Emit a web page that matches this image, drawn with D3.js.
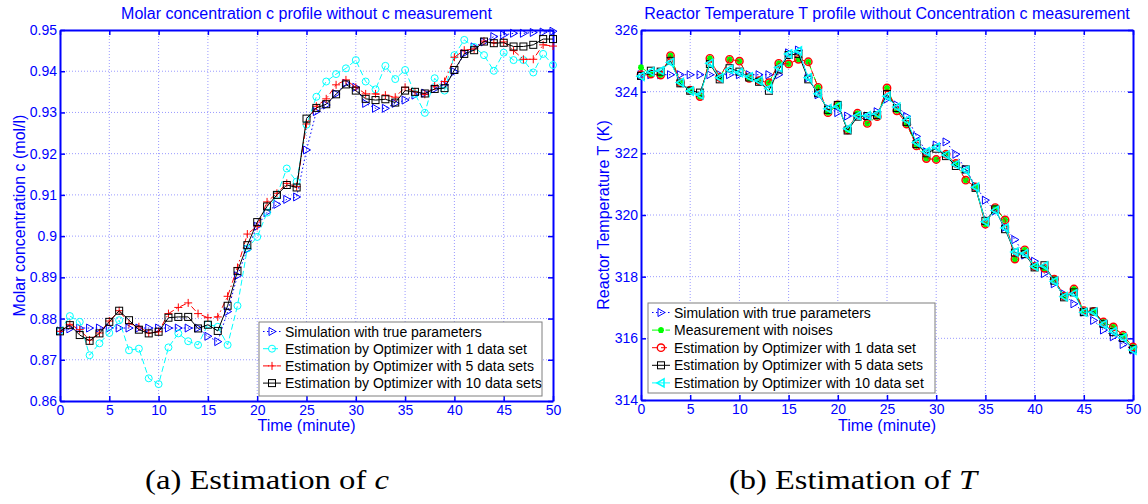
<!DOCTYPE html>
<html><head><meta charset="utf-8">
<script src="https://cdn.jsdelivr.net/npm/d3@7"></script>
<style>
html,body{margin:0;padding:0;background:#fff;}
svg{display:block;font-family:"Liberation Sans",Arial,sans-serif;}
</style></head><body>
<svg id="chart" width="1148" height="504"></svg>
<script>
// ---------------- DATA ----------------
const time = [0,1,2,3,4,5,6,7,8,9,10,11,12,13,14,15,16,17,18,19,20,21,22,23,24,25,26,27,28,29,30,31,32,33,34,35,36,37,38,39,40,41,42,43,44,45,46,47,48,49,50];

// (a) molar concentration c
const cSim = [0.8770,0.8775,0.8777,0.8777,0.8777,0.8777,0.8777,0.8777,0.8777,0.8777,0.8777,0.8777,0.8777,0.8777,0.8777,0.8757,0.8744,0.8817,0.8904,0.8968,0.9024,0.9058,0.9077,0.9089,0.9095,0.9209,0.9302,0.9318,0.9345,0.9371,0.9361,0.9322,0.9310,0.9310,0.9322,0.9330,0.9342,0.9347,0.9357,0.9367,0.9399,0.9443,0.9459,0.9471,0.9484,0.9488,0.9492,0.9492,0.9494,0.9495,0.9497];
const cEst1 = [0.8770,0.8806,0.8792,0.8711,0.8740,0.8765,0.8796,0.8723,0.8727,0.8655,0.8641,0.8730,0.8764,0.8745,0.8736,0.8786,0.8780,0.8736,0.8831,0.8970,0.8998,0.9057,0.9100,0.9164,0.9132,0.9270,0.9338,0.9375,0.9393,0.9407,0.9427,0.9375,0.9356,0.9413,0.9381,0.9403,0.9345,0.9299,0.9383,0.9353,0.9439,0.9476,0.9459,0.9439,0.9401,0.9445,0.9427,0.9427,0.9397,0.9442,0.9415];
const cEst5 = [0.8769,0.8786,0.8773,0.8748,0.8765,0.8794,0.8819,0.8788,0.8780,0.8765,0.8768,0.8812,0.8827,0.8838,0.8812,0.8802,0.8804,0.8854,0.8924,0.9005,0.9024,0.9083,0.9104,0.9128,0.9120,0.9272,0.9315,0.9333,0.9367,0.9379,0.9361,0.9345,0.9345,0.9342,0.9337,0.9361,0.9350,0.9344,0.9364,0.9375,0.9434,0.9451,0.9454,0.9473,0.9469,0.9471,0.9450,0.9429,0.9429,0.9464,0.9461];
const cEst10 = [0.8769,0.8784,0.8760,0.8746,0.8764,0.8792,0.8819,0.8796,0.8773,0.8764,0.8768,0.8802,0.8804,0.8804,0.8776,0.8785,0.8770,0.8831,0.8915,0.8978,0.9034,0.9072,0.9100,0.9124,0.9118,0.9285,0.9311,0.9320,0.9344,0.9368,0.9353,0.9333,0.9330,0.9332,0.9324,0.9353,0.9350,0.9346,0.9357,0.9359,0.9403,0.9442,0.9451,0.9472,0.9468,0.9469,0.9460,0.9460,0.9464,0.9478,0.9478];

// (b) reactor temperature T
const tSim = [324.55,324.55,324.55,324.55,324.55,324.55,324.55,324.55,324.55,324.55,324.55,324.55,324.55,324.55,324.55,325.26,325.35,324.45,323.90,323.46,323.32,323.21,323.21,323.21,323.35,323.76,323.57,323.20,322.55,322.05,322.27,322.37,321.97,321.48,320.94,320.48,320.13,319.60,319.20,318.70,318.50,318.10,317.77,317.44,317.12,316.85,316.58,316.27,316.05,315.80,315.62];
const tMeas = [324.79,324.57,324.54,325.17,324.29,324.05,323.84,325.08,324.46,325.05,324.99,324.43,324.36,324.29,324.92,324.90,325.05,324.97,324.14,323.32,323.57,322.76,323.30,322.97,323.19,324.12,323.38,322.95,322.24,321.83,321.80,321.97,321.67,321.13,320.91,319.70,320.24,319.84,318.57,318.87,318.33,318.27,317.92,317.37,317.60,316.90,316.87,316.53,316.37,316.10,315.72];
const tEst1 = [324.55,324.57,324.54,325.17,324.29,324.05,323.84,325.08,324.46,325.05,324.99,324.43,324.36,324.29,324.92,324.90,325.05,324.97,324.14,323.32,323.57,322.76,323.30,322.97,323.19,324.12,323.38,322.95,322.24,321.83,321.80,321.97,321.67,321.13,320.91,319.70,320.24,319.84,318.57,318.87,318.33,318.27,317.92,317.37,317.60,316.90,316.87,316.53,316.37,316.10,315.72];
const tEst5 = [324.51,324.68,324.65,325.00,324.27,324.03,323.97,324.90,324.40,324.76,324.65,324.46,324.32,324.03,324.72,325.19,325.22,324.40,323.95,323.41,323.57,322.74,323.19,323.21,323.24,323.92,323.47,323.02,322.30,322.00,322.15,321.91,321.59,321.48,320.88,319.81,320.18,319.54,318.78,318.73,318.30,318.37,317.87,317.33,317.49,316.85,316.87,316.47,316.20,316.01,315.65];
const tEst10 = [324.50,324.65,324.68,324.95,324.30,324.02,323.90,324.92,324.45,324.72,324.62,324.48,324.35,324.10,324.78,325.22,325.32,324.45,323.93,323.45,323.52,322.80,323.22,323.22,323.28,323.85,323.50,323.07,322.35,322.05,322.20,321.95,321.63,321.45,320.90,319.78,320.15,319.58,318.80,318.75,318.33,318.35,317.85,317.35,317.45,316.85,316.85,316.45,316.22,316.02,315.62];

const xTicks = [0,5,10,15,20,25,30,35,40,45,50];
const cTicks = [0.86,0.87,0.88,0.89,0.9,0.91,0.92,0.93,0.94,0.95];
const tTicks = [314,316,318,320,322,324,326];

const cSeries = [
  {name:"Simulation with true parameters", values:cSim, color:"#0000ff", dash:"1.5,2.5", marker:"triR"},
  {name:"Estimation by Optimizer with 1 data set", values:cEst1, color:"#00ffff", dash:"6,3", marker:"circle"},
  {name:"Estimation by Optimizer with 5 data sets", values:cEst5, color:"#ff0000", dash:"6,3,1.5,3", marker:"plus"},
  {name:"Estimation by Optimizer with 10 data sets", values:cEst10, color:"#000000", dash:null, marker:"square"}
];
const tSeries = [
  {name:"Simulation with true parameters", values:tSim, color:"#0000ff", dash:"1.5,2.5", marker:"triR"},
  {name:"Measurement with noises", values:tMeas, color:"#00ff00", dash:"6,3,1.5,3", marker:"star"},
  {name:"Estimation by Optimizer with 1 data set", values:tEst1, color:"#ff0000", dash:"6,3", marker:"circleR"},
  {name:"Estimation by Optimizer with 5 data sets", values:tEst5, color:"#000000", dash:null, marker:"square"},
  {name:"Estimation by Optimizer with 10 data set", values:tEst10, color:"#00ffff", dash:null, marker:"triL"}
];

// ---------------- DRAW ----------------
const svg = d3.select("#chart");
const AX = "#0000ff";

function drawMarker(g, type, x, y, color){
  const s = 4;
  if(type==="triR"){
    g.append("path").attr("d",`M${x-s+1},${y-s}L${x+s},${y}L${x-s+1},${y+s}Z`).attr("fill","none").attr("stroke",color).attr("stroke-width",1);
  } else if(type==="triL"){
    g.append("path").attr("d",`M${x+s-1},${y-s}L${x-s},${y}L${x+s-1},${y+s}Z`).attr("fill","none").attr("stroke",color).attr("stroke-width",1.6);
  } else if(type==="circle"){
    g.append("circle").attr("cx",x).attr("cy",y).attr("r",3.5).attr("fill","none").attr("stroke",color).attr("stroke-width",1);
  } else if(type==="circleR"){
    g.append("circle").attr("cx",x).attr("cy",y).attr("r",3.7).attr("fill","none").attr("stroke",color).attr("stroke-width",1.4);
  } else if(type==="square"){
    g.append("rect").attr("x",x-3.5).attr("y",y-3.5).attr("width",7).attr("height",7).attr("fill","none").attr("stroke",color).attr("stroke-width",1);
  } else if(type==="plus"){
    g.append("path").attr("d",`M${x-4},${y}H${x+4}M${x},${y-4}V${y+4}`).attr("stroke",color).attr("stroke-width",1);
  } else if(type==="star"){
    g.append("path").attr("d",`M${x-3},${y}H${x+3}M${x},${y-3}V${y+3}M${x-2.2},${y-2.2}L${x+2.2},${y+2.2}M${x-2.2},${y+2.2}L${x+2.2},${y-2.2}`).attr("stroke",color).attr("stroke-width",1.8);
  }
}

function panel(cfg){
  const {x0,x1,y0,y1,yDomain,yTicks,yFmt,series,title,ylabel,legend} = cfg;
  const x = d3.scaleLinear().domain([0,50]).range([x0,x1]);
  const y = d3.scaleLinear().domain(yDomain).range([y1,y0]);
  const g = svg.append("g");

  // grid
  const grid = g.append("g").attr("stroke","#9a9aff").attr("stroke-width",1).attr("stroke-dasharray","1,2");
  xTicks.forEach(t=>{ if(t>0 && t<50) grid.append("line").attr("x1",x(t)).attr("x2",x(t)).attr("y1",y0).attr("y2",y1); });
  yTicks.forEach(t=>{ if(t>yDomain[0] && t<yDomain[1]) grid.append("line").attr("x1",x0).attr("x2",x1).attr("y1",y(t)).attr("y2",y(t)); });

  // axes (box)
  const axB = g.append("g").attr("transform",`translate(0,${y1})`).call(d3.axisBottom(x).tickValues(xTicks).tickSizeInner(-5).tickSizeOuter(0).tickPadding(4));
  const axL = g.append("g").attr("transform",`translate(${x0},0)`).call(d3.axisLeft(y).tickValues(yTicks).tickFormat(yFmt).tickSizeInner(-5).tickSizeOuter(0).tickPadding(3));
  const axT = g.append("g").attr("transform",`translate(0,${y0})`).call(d3.axisTop(x).tickValues(xTicks).tickSizeInner(-5).tickSizeOuter(0).tickFormat(""));
  const axR = g.append("g").attr("transform",`translate(${x1},0)`).call(d3.axisRight(y).tickValues(yTicks).tickSizeInner(-5).tickSizeOuter(0).tickFormat(""));
  [axB,axL,axT,axR].forEach(a=>{
    a.selectAll(".domain").attr("stroke",AX).attr("stroke-width",2);
    a.selectAll(".tick line").attr("stroke",AX).attr("stroke-width",1.5);
    a.selectAll("text").attr("fill",AX).style("font-size","14px").style("font-family","Liberation Sans, Arial, sans-serif");
  });

  // series
  const line = d3.line().x((d,i)=>x(time[i])).y(d=>y(d));
  series.forEach(s=>{
    const p = g.append("path").datum(s.values).attr("d",line).attr("fill","none").attr("stroke",s.color).attr("stroke-width",1);
    if(s.dash) p.attr("stroke-dasharray",s.dash);
    const mg = g.append("g");
    s.values.forEach((v,i)=>drawMarker(mg,s.marker,x(time[i]),y(v),s.color));
  });

  // titles
  g.append("text").attr("x",(x0+x1)/2).attr("y",19).attr("text-anchor","middle").attr("fill",AX).style("font-size","16px").text(title);
  g.append("text").attr("x",(x0+x1)/2).attr("y",431).attr("text-anchor","middle").attr("fill",AX).style("font-size","16px").text("Time (minute)");
  g.append("text").attr("transform",`translate(${ylabel.x},${(y0+y1)/2}) rotate(-90)`).attr("text-anchor","middle").attr("fill",AX).style("font-size","16px").text(ylabel.text);

  // legend
  const lg = g.append("g");
  lg.append("rect").attr("x",legend.x).attr("y",legend.y).attr("width",legend.w).attr("height",legend.h).attr("fill","#fff").attr("stroke","#7f7f7f").attr("stroke-width",1);
  series.forEach((s,i)=>{
    const cy = legend.y + 9.5 + i*legend.row;
    const l = lg.append("line").attr("x1",legend.x+4).attr("x2",legend.x+22).attr("y1",cy).attr("y2",cy).attr("stroke",s.color).attr("stroke-width",1);
    if(s.dash) l.attr("stroke-dasharray",s.dash);
    drawMarker(lg,s.marker,legend.x+13,cy,s.color);
    lg.append("text").attr("x",legend.x+26).attr("y",cy+5).attr("fill","#000").style("font-size","14px").text(s.name);
  });
}

panel({x0:60,x1:553,y0:30,y1:401,yDomain:[0.86,0.95],yTicks:cTicks,yFmt:d3.format(""),series:cSeries,
  title:"Molar concentration c profile without c measurement",
  ylabel:{x:25,text:"Molar concentration c (mol/l)"},
  legend:{x:259,y:322,w:283,h:74,row:17.2}});
panel({x0:641,x1:1133,y0:30,y1:400,yDomain:[314,326],yTicks:tTicks,yFmt:d3.format("d"),series:tSeries,
  title:"Reactor Temperature T profile without Concentration c measurement",
  ylabel:{x:609,text:"Reactor Temperature T (K)"},
  legend:{x:648,y:303,w:287,h:90,row:17.6}});

// captions
const cap = svg.append("g").style("font-family","Liberation Serif, 'DejaVu Serif', serif").style("font-size","27px").attr("fill","#000");
const ca = cap.append("text").attr("x",267).attr("y",489).attr("text-anchor","middle").attr("textLength",244).attr("lengthAdjust","spacingAndGlyphs");
ca.append("tspan").text("(a) Estimation of ");
ca.append("tspan").style("font-style","italic").text("c");
const cb = cap.append("text").attr("x",853).attr("y",489).attr("text-anchor","middle").attr("textLength",248).attr("lengthAdjust","spacingAndGlyphs");
cb.append("tspan").text("(b) Estimation of ");
cb.append("tspan").style("font-style","italic").text("T");
</script>
</body></html>
